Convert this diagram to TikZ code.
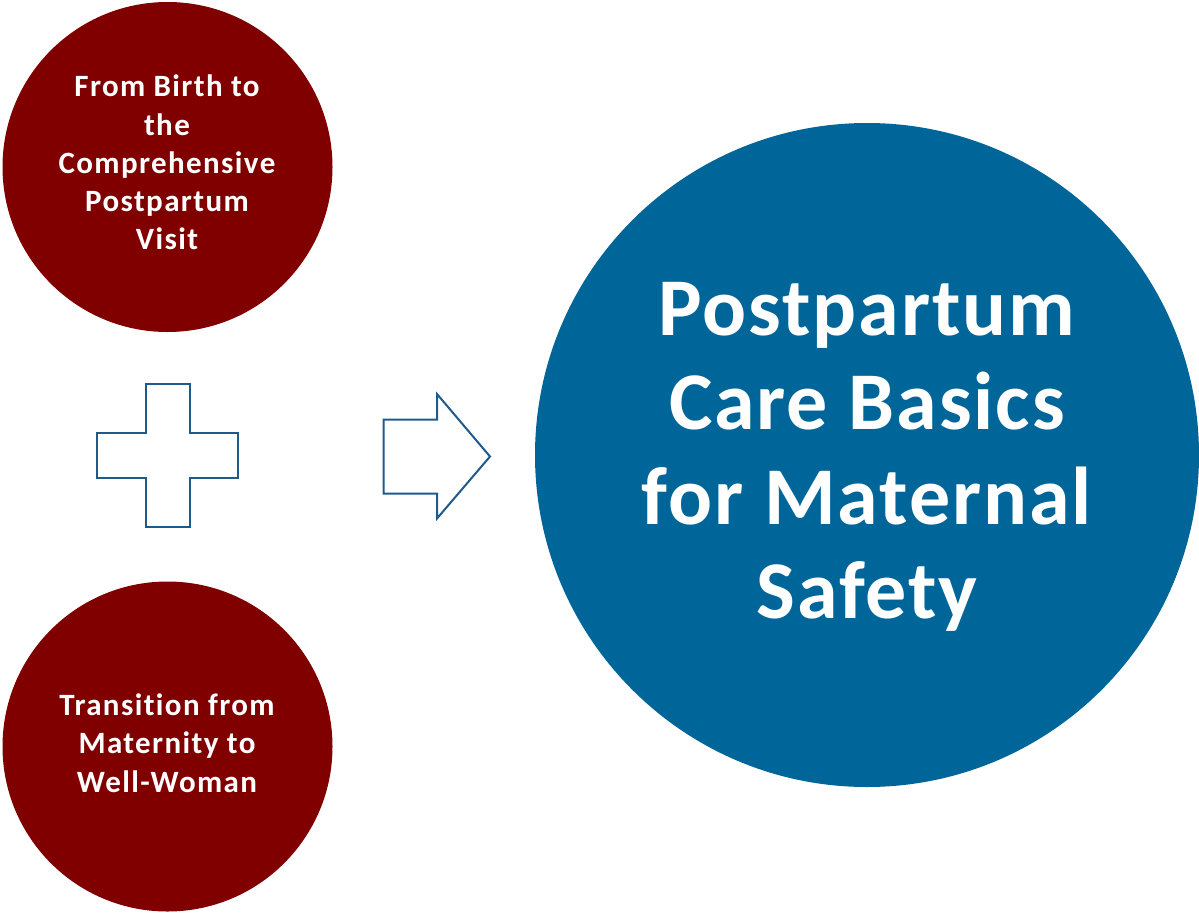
\documentclass[tikz,border=0pt]{standalone}
\usepackage{fontspec}
\setmainfont{Carlito}
\newfontfamily\smallfnt[LetterSpace=4.5,Ligatures={NoCommon,NoRare,NoDiscretionary}]{Carlito}
\newfontfamily\bigfnt[LetterSpace=2.4,Ligatures={NoCommon,NoRare,NoDiscretionary}]{Carlito}
\definecolor{darkred}{RGB}{128,0,0}
\definecolor{bigblue}{RGB}{0,102,153}
\definecolor{outlineblue}{RGB}{31,90,140}
\tikzset{
  redcircle/.style={circle, fill=darkred, draw=none, minimum size=330pt, inner sep=0pt},
  bluecircle/.style={circle, fill=bigblue, draw=none, minimum size=664pt, inner sep=0pt},
  smalltext/.style={text=white, align=center, font=\smallfnt\bfseries\fontsize{31}{38.25}\selectfont},
  bigtext/.style={text=white, align=center, font=\bigfnt\bfseries\fontsize{82}{94.5}\selectfont},
  outlineshape/.style={draw=outlineblue, line width=2pt, fill=white, line join=miter}
}
\begin{document}
\begin{tikzpicture}[x=1pt,y=-1pt]
\useasboundingbox (0,0) rectangle (1199,913);
\node[redcircle] (top) at (167.5,167) {};
\node[redcircle] (bottom) at (167.5,746.5) {};
\node[bluecircle] (big) at (867,455) {};
\node[smalltext] (toptext) at (167,162.5) {From Birth to\\the\\Comprehensive\\Postpartum\\Visit};
\node[smalltext] (bottomtext) at (167,743) {Transition from\\Maternity to\\Well-Woman};
\node[bigtext] (bigtext) at (867,457) {Postpartum\\Care Basics\\for Maternal\\Safety};
\draw[outlineshape] (146,384) -- (190,384) -- (190,433) -- (238,433) -- (238,478) -- (190,478)
  -- (190,527) -- (146,527) -- (146,478) -- (97,478) -- (97,433) -- (146,433) -- cycle;
\draw[outlineshape] (383.5,419.5) -- (437,419.5) -- (437,394) -- (490,456.5) -- (437,518.5)
  -- (437,493.5) -- (383.5,493.5) -- cycle;
\end{tikzpicture}
\end{document}
